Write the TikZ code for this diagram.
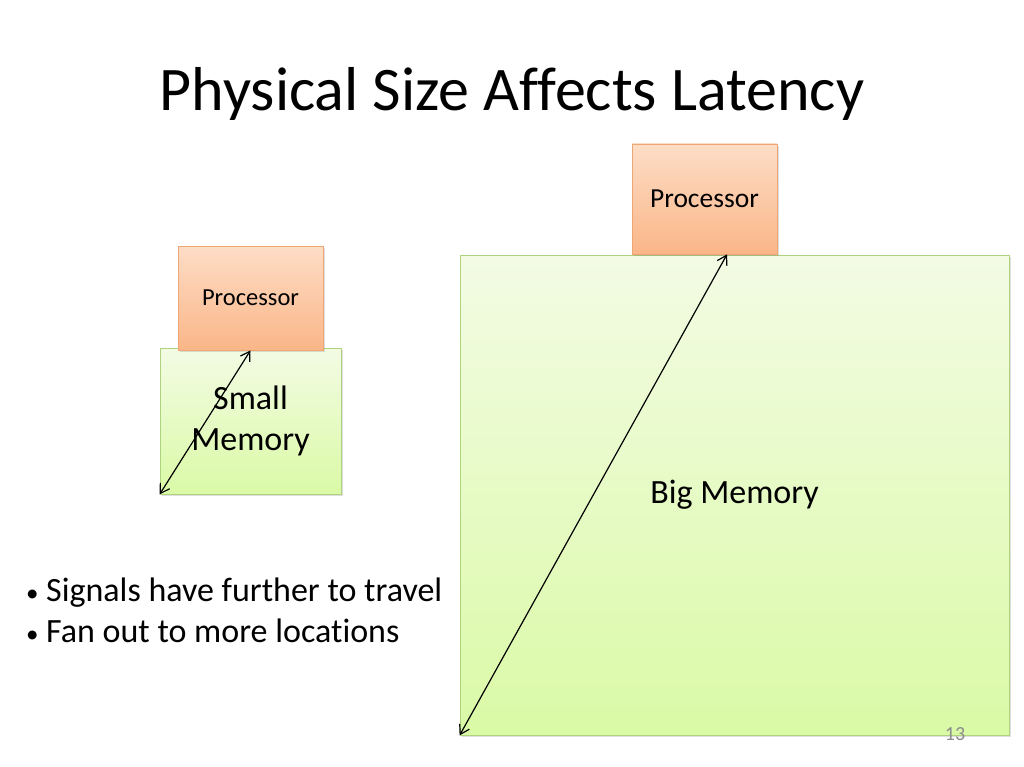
\documentclass[tikz,border=0pt]{standalone}
\usepackage{fontspec}
\setmainfont{Carlito}[Ligatures={NoCommon}]
\usetikzlibrary{arrows.meta,shadows,calc}
\definecolor{orTop}{HTML}{FDDDC6}
\definecolor{orBot}{HTML}{FAB688}
\definecolor{orLine}{HTML}{F0A673}
\definecolor{grTop}{HTML}{F3FBE4}
\definecolor{grBot}{HTML}{DAFAA6}
\definecolor{grLine}{HTML}{AFD27F}
\definecolor{pgnum}{HTML}{8C8C8C}
\newcommand{\blt}{\makebox[20pt][l]{\fontsize{25}{30}\selectfont •}}
\tikzset{
  procbox/.style={draw=orLine, line width=0.8pt, top color=orTop, bottom color=orBot, inner sep=0pt, align=center,
    drop shadow={shadow xshift=1.5pt, shadow yshift=-2pt, opacity=0.25}},
  membox/.style={draw=grLine, line width=0.8pt, top color=grTop, bottom color=grBot, inner sep=0pt, align=center,
    drop shadow={shadow xshift=1.5pt, shadow yshift=-2pt, opacity=0.25}},
  sig/.style={line width=1.2pt, {Straight Barb[length=9pt,width=11pt]}-{Straight Barb[length=9pt,width=11pt]}},
  bullettext/.style={anchor=base west, inner sep=0pt, font=\fontsize{34}{40}\selectfont}
}
\begin{document}
\begin{tikzpicture}[x=1pt,y=-1pt]
\useasboundingbox[fill=white] (0,0) rectangle (1024,767);
\node[anchor=base, inner sep=0pt, font=\fontsize{62}{70}\selectfont] (title) at (512,111) {Physical Size Affects Latency};
% small
\node[membox, minimum width=181pt, minimum height=146pt, font=\fontsize{34}{41}\selectfont] (smem) at (250.5,421) {Small\\Memory};
\node[procbox, minimum width=145pt, minimum height=104pt, font=\fontsize{24.5}{30}\selectfont] (sproc) at (250.5,298) {Processor};
% big
\node[membox, minimum width=549pt, minimum height=480pt, font=\fontsize{34}{40}\selectfont] (bmem) at (734.5,495) {Big Memory};
\node[procbox, minimum width=145pt, minimum height=110pt, font=\fontsize{27.5}{33}\selectfont] (bproc) at (704.5,199) {Processor};
% signals
\draw[sig] (smem.south west) -- (sproc.south);
\coordinate (btop) at ($(bproc.south)+(22.5,0)$);
\draw[sig] (bmem.south west) -- (btop);
% bullets
\node[bullettext] (b1) at (26,601) {\blt Signals have further to travel};
\node[bullettext] (b2) at (26,642) {\blt Fan out to more locations};
\node[inner sep=0pt, text=pgnum, font=\fontsize{20}{22}\selectfont] (pg) at (955,734) {13};
\end{tikzpicture}
\end{document}
